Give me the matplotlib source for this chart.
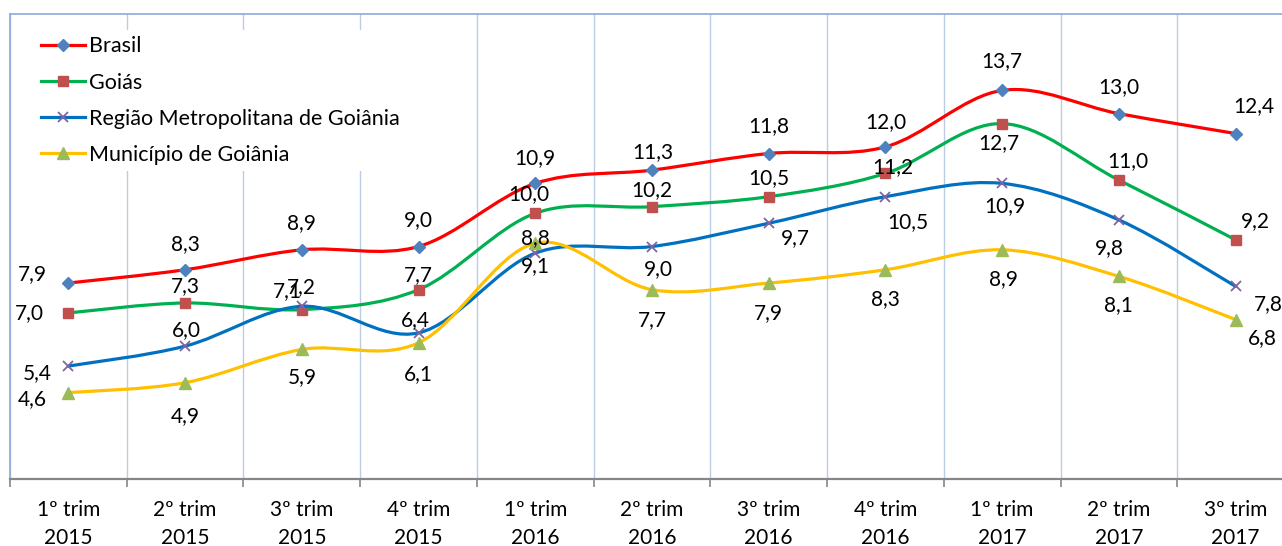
import numpy as np
import matplotlib
matplotlib.use("Agg")
import matplotlib.pyplot as plt
from matplotlib.path import Path
from matplotlib.patches import PathPatch
from matplotlib.lines import Line2D

plt.rcParams['font.family'] = ['Lato', 'DejaVu Sans']

categories = ["1º trim\n2015", "2º trim\n2015", "3º trim\n2015", "4º trim\n2015",
              "1º trim\n2016", "2º trim\n2016", "3º trim\n2016", "4º trim\n2016",
              "1º trim\n2017", "2º trim\n2017", "3º trim\n2017"]

brasil = [7.9, 8.3, 8.9, 9.0, 10.9, 11.3, 11.8, 12.0, 13.7, 13.0, 12.4]
goias = [7.0, 7.3, 7.1, 7.7, 10.0, 10.2, 10.5, 11.2, 12.7, 11.0, 9.2]
rm_goiania = [5.4, 6.0, 7.2, 6.4, 8.8, 9.0, 9.7, 10.5, 10.9, 9.8, 7.8]
mun_goiania = [4.6, 4.9, 5.9, 6.1, 9.1, 7.7, 7.9, 8.3, 8.9, 8.1, 6.8]

names = ["Brasil", "Goiás", "Região Metropolitana de Goiânia", "Município de Goiânia"]

# label offsets in pixels (dx, dy up)
off_brasil = [(-36, 9), (0, 26), (0, 27), (0, 26), (0, 25), (1, 18), (0, 27), (0, 25), (0, 29), (0, 27), (18, 27)]
off_goias = [(-39, 0), (0, 17), (-14, 19), (0, 15), (-6, 19), (0, 17), (0, 19), (7, 6), (-3, -19), (9, 19), (20, 19)]
off_rmg = [(-31, -7), (1, 16), (0, 19), (-3, 13), (0, 15), (6, -23), (27, -15), (22, -25), (3, -23), (-10, -28), (33, -18)]
off_mun = [(-36, -6), (0, -33), (0, -28), (0, -31), (0, -23), (0, -30), (0, -30), (0, -29), (1, -29), (0, -29), (27, -19)]

series = [brasil, goias, rm_goiania, mun_goiania]
offsets = [off_brasil, off_goias, off_rmg, off_mun]
line_colors = ['#ff0000', '#00b050', '#0070c0', '#ffc000']
marker_colors = ['#4f81bd', '#c0504d', '#8064a2', '#9bbb59']
markers = ['D', 's', 'x', '^']
msizes = [6.5, 7.5, 7, 8.5]


def smooth_path(xs, ys):
    # catmull-rom through the points, as excel smoothed lines
    pts = np.column_stack((xs, ys)).astype(float)
    n = len(pts)
    verts = [pts[0]]
    codes = [Path.MOVETO]
    for i in range(n - 1):
        p0 = pts[i - 1] if i > 0 else pts[i]
        p1 = pts[i]
        p2 = pts[i + 1]
        p3 = pts[i + 2] if i + 2 < n else pts[i + 1]
        c1 = p1 + (p2 - p0) / 6.0
        c2 = p2 - (p3 - p1) / 6.0
        verts += [c1, c2, p2]
        codes += [Path.CURVE4] * 3
    return Path(verts, codes)


fig = plt.figure(figsize=(12.82, 5.46), dpi=100)
W, H = 1282, 546
ax = fig.add_axes([10 / W, (H - 479) / H, 1284 / W, (479 - 14) / H])

x = np.arange(len(categories))
ax.set_xlim(-0.5, len(categories) - 0.5)
ax.set_ylim(2, 16)

for k in range(len(series)):
    patch = PathPatch(smooth_path(x, series[k]), fill=False, edgecolor=line_colors[k],
                      lw=2.3, capstyle='round', joinstyle='round', zorder=3 + k)
    ax.add_patch(patch)
    if markers[k] == 'x':
        ax.plot(x, series[k], linestyle='none', marker='x', ms=msizes[k],
                mew=1.3, color=marker_colors[k], zorder=3.5 + k)
    else:
        ax.plot(x, series[k], linestyle='none', marker=markers[k], ms=msizes[k],
                mfc=marker_colors[k], mec=marker_colors[k], zorder=3.5 + k)
    for i, v in enumerate(series[k]):
        dx, dy = offsets[k][i]
        ax.annotate(f"{v:.1f}".replace('.', ','), (x[i], v), xytext=(dx, dy),
                    textcoords='offset pixels', ha='center', va='center',
                    fontsize=15, color='black', zorder=10)

# axes styling
for s in ['left', 'top']:
    ax.spines[s].set_color('#8eaadb')
    ax.spines[s].set_linewidth(1.2)
ax.spines['right'].set_visible(False)
ax.spines['bottom'].set_color('#868686')
ax.spines['bottom'].set_linewidth(1.6)
ax.set_yticks([])
ax.set_xticks(x)
ax.set_xticklabels(categories, fontsize=15, linespacing=1.5)
ax.tick_params(axis='x', which='major', length=0, pad=15)
ax.set_xticks(np.arange(-0.5, len(categories)), minor=True)
ax.tick_params(axis='x', which='minor', length=6, width=1.2, color='#868686', direction='out')
ax.grid(axis='x', which='minor', color='#b9cde5', lw=1)
ax.set_axisbelow(True)

handles = []
for k in range(len(series)):
    if markers[k] == 'x':
        h = Line2D([], [], color=line_colors[k], lw=2.3, marker='x', ms=msizes[k],
                   mew=1.3, mec=marker_colors[k])
    else:
        h = Line2D([], [], color=line_colors[k], lw=2.3, marker=markers[k], ms=msizes[k],
                   mfc=marker_colors[k], mec=marker_colors[k])
    handles.append(h)
leg = fig.legend(handles, names, loc='upper left', bbox_to_anchor=(35 / W, 1 - 30 / H),
                 fontsize=15.5, frameon=True, facecolor='white', edgecolor='none',
                 framealpha=1, fancybox=False, handlelength=2.0, handletextpad=0.2,
                 labelspacing=0.75, borderpad=0.3, borderaxespad=0)
leg.set_zorder(20)

fig.savefig("out.png", dpi=100)
